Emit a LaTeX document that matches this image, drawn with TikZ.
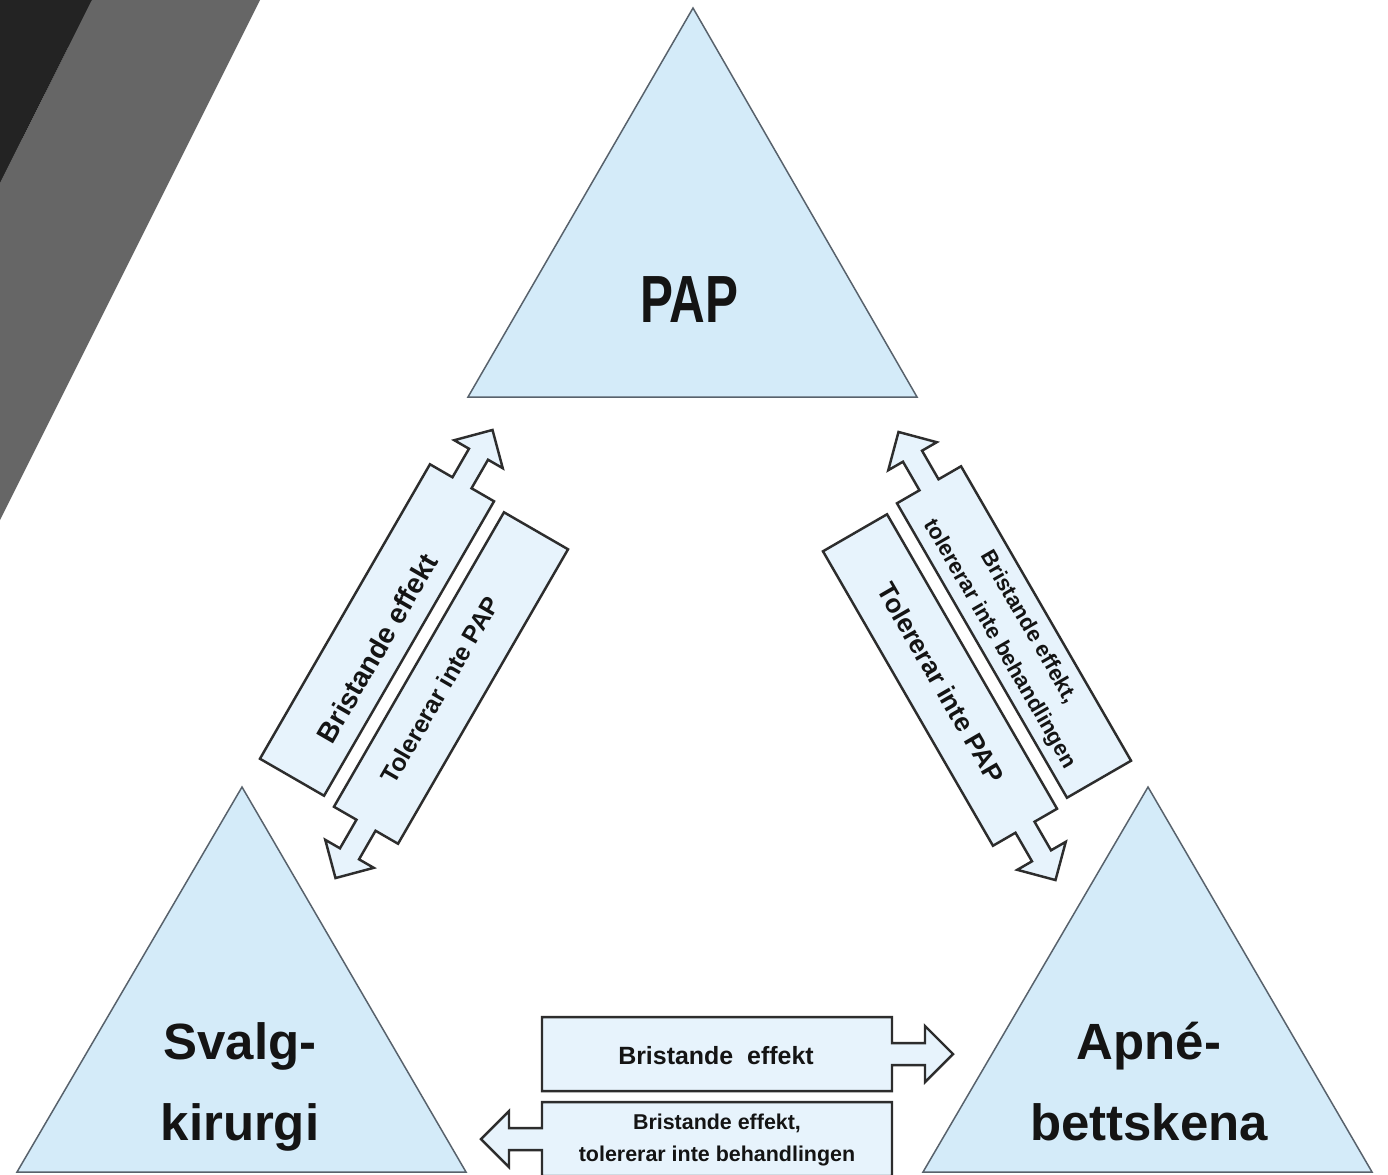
\documentclass[tikz,border=0pt]{standalone}
\usepackage{fontspec}
\setmainfont{Liberation Sans}
\usepackage{graphicx}
\definecolor{bgdark}{HTML}{232323}
\definecolor{bggray}{HTML}{666666}
\definecolor{trifill}{RGB}{212,235,249}
\definecolor{tristroke}{RGB}{88,98,108}
\definecolor{arrfill}{RGB}{231,243,252}
\definecolor{arrstroke}{RGB}{45,45,45}
\definecolor{txtcol}{RGB}{20,20,20}
\newcommand{\blockarrow}[3]{% #1 centre coordinate, #2 direction, #3 half length of box
  \begin{scope}[shift={(#1)},rotate=#2]
    \filldraw[arrowbox] (-#3,-37) -- (#3,-37) -- (#3,-11) -- ({#3+33},-11) -- ({#3+33},-28)
      -- ({#3+61},0) -- ({#3+33},28) -- ({#3+33},11) -- (#3,11) -- (#3,37) -- (-#3,37) -- cycle;
  \end{scope}}
\begin{document}
\begin{tikzpicture}[x=0.02cm,y=-0.02cm,
  tri/.style={fill=trifill,draw=tristroke,line width=0.85pt,line join=miter},
  arrowbox/.style={fill=arrfill,draw=arrstroke,line width=1.4pt,line join=miter},
  bigtxt/.style={font=\fontsize{29}{35}\selectfont\bfseries,text=txtcol,inner sep=0pt,anchor=base},
  arrtxt/.style={text=txtcol,inner sep=0pt,align=center}]
\useasboundingbox (0,0) rectangle (1388,1174);
\fill[white] (0,0) rectangle (1388,1174);
% background bands
\fill[bggray] (92,0) -- (260,0) -- (0,520) -- (0,183) -- cycle;
\fill[bgdark] (0,0) -- (92,0) -- (0,183) -- cycle;
% triangles
\coordinate (papL) at (468,397); \coordinate (papR) at (917,397); \coordinate (papT) at (693,8);
\coordinate (svL) at (17,1172); \coordinate (svR) at (466,1172); \coordinate (svT) at (242,787);
\coordinate (apL) at (923,1172); \coordinate (apR) at (1372,1172); \coordinate (apT) at (1148,787);
\draw[tri] (papL) -- (papR) -- (papT) -- cycle;
\draw[tri] (svL) -- (svR) -- (svT) -- cycle;
\draw[tri] (apL) -- (apR) -- (apT) -- cycle;
\node[bigtxt,font=\fontsize{38}{44}\selectfont\bfseries] (pap) at (689,322) {\scalebox{0.74}[1]{PAP}};
\node[bigtxt] (svalg1) at (240,1059) {Svalg-};
\node[bigtxt] (svalg2) at (240,1140) {kirurgi};
\node[bigtxt] (apne1) at (1149,1059) {Apné-};
\node[bigtxt] (apne2) at (1149,1140) {bettskena};
% arrow centres
\coordinate (cA) at (377,630);
\coordinate (cB) at (451,678);
\coordinate (cC) at (1014,632);
\coordinate (cD) at (940,680);
\coordinate (cE) at (717,1054);
\coordinate (cF) at (717,1139);
\blockarrow{cA}{60}{170}
\blockarrow{cB}{240}{170}
\blockarrow{cC}{120}{170}
\blockarrow{cD}{-60}{170}
\blockarrow{cE}{0}{175}
\blockarrow{cF}{180}{175}
% arrow labels
\node[arrtxt,rotate=60,font=\fontsize{16}{19}\selectfont\bfseries] (tA) at (377,648) {Bristande effekt};
\node[arrtxt,rotate=60,font=\fontsize{14}{16}\selectfont\bfseries] (tB) at (440,690) {Tolererar inte PAP};
\node[arrtxt,rotate=-60,font=\fontsize{12.5}{19}\selectfont\bfseries] (tC) at (1014,636) {Bristande effekt,\\tolererar inte behandlingen};
\node[arrtxt,rotate=-60,font=\fontsize{15}{18}\selectfont\bfseries] (tD) at (941,683) {Tolererar inte PAP};
\node[arrtxt,font=\fontsize{14.2}{17}\selectfont\bfseries] (tE) at (716,1056) {Bristande\ \ effekt};
\node[arrtxt,font=\fontsize{12.2}{18}\selectfont\bfseries] (tF) at (717,1140) {Bristande effekt,\\tolererar inte behandlingen};
\end{tikzpicture}
\end{document}
